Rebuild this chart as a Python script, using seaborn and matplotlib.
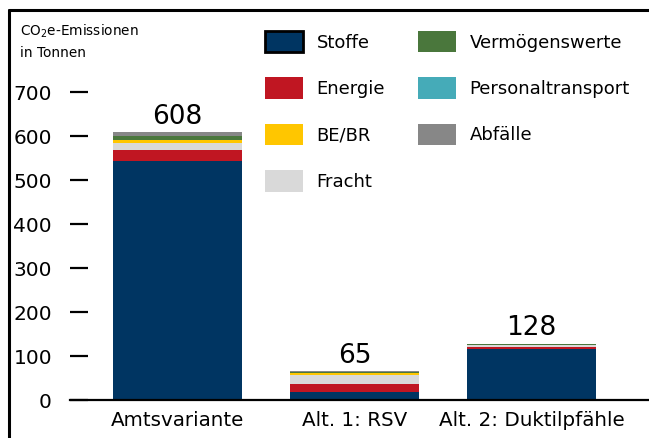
import numpy as np
import pandas as pd
import matplotlib
matplotlib.use('Agg')
import matplotlib.pyplot as plt
from matplotlib.patches import Patch
from matplotlib.lines import Line2D
import seaborn as sns

# data
variants = ['Amtsvariante', 'Alt. 1: RSV', 'Alt. 2: Duktilpfähle']
totals = [608, 65, 128]
stack_order = ['Stoffe', 'Energie', 'Fracht', 'BE/BR', 'Vermögenswerte',
               'Personaltransport', 'Abfälle']
legend_order = ['Stoffe', 'Energie', 'BE/BR', 'Fracht', 'Vermögenswerte',
                'Personaltransport', 'Abfälle']
stoffe = [543, 19, 115]
energie = [25, 17, 5]
fracht = [17, 21, 4]
be_br = [5, 4, 0.5]
vermoegen = [9, 2, 3]
personal = [1, 1, 0.2]
abfaelle = [8, 1, 0.3]

colors = {'Stoffe': '#003562', 'Energie': '#C01622', 'BE/BR': '#FFC600',
          'Fracht': '#D9D9D9', 'Vermögenswerte': '#4A773C',
          'Personaltransport': '#45ABB8', 'Abfälle': '#878787'}

values = [stoffe, energie, fracht, be_br, vermoegen, personal, abfaelle]
rows = []
for comp, vals in zip(stack_order, values):
    for v, val in zip(variants, vals):
        rows.append({'variant': v, 'component': comp, 'value': val})
df = pd.DataFrame(rows)

sns.set_style('white')
plt.rcParams['font.family'] = ['DejaVu Sans']
plt.rcParams['text.color'] = 'black'

W, H = 649, 438
fig = plt.figure(figsize=(W / 100, H / 100), dpi=100)
# axes in pixel terms: x 70..649, y baseline at 400, 0.44 px per tonne
ymax = 760
top_px = 400 - ymax * 0.44
ax = fig.add_axes([70 / W, (H - 400) / H, (W - 70) / W, (400 - top_px) / H])

# histplot stacks the last hue at the bottom, so reverse the order
sns.histplot(data=df, x='variant', hue='component', weights='value',
             multiple='stack', discrete=True, shrink=0.73,
             hue_order=stack_order[::-1], palette=colors, linewidth=0,
             alpha=1, legend=False, ax=ax)

ax.set_xlim(-0.607, 2.664)
ax.set_ylim(0, ymax)
ax.set_yticks(np.arange(0, 800, 100))
ax.set_xlabel('')
ax.set_ylabel('')
for s in ['top', 'right', 'left']:
    ax.spines[s].set_visible(False)
ax.spines['bottom'].set_linewidth(1.6)
ax.spines['bottom'].set_color('black')
ax.tick_params(axis='y', direction='in', length=13, width=1.6, pad=13,
               labelsize=14.5, colors='black', left=True)
ax.tick_params(axis='x', length=0, pad=8, labelsize=14.3, colors='black')
ax.grid(False)

for i, t in enumerate(totals):
    ax.annotate(str(t), (i, t), xytext=(0, 2), textcoords='offset points',
                ha='center', va='bottom', fontsize=19, color='black')

handles = []
for comp in legend_order:
    if comp == 'Stoffe':
        handles.append(Patch(facecolor=colors[comp], edgecolor='black', linewidth=2))
    else:
        handles.append(Patch(facecolor=colors[comp], edgecolor='none'))
fig.legend(handles, legend_order, loc='upper left', ncol=2,
           bbox_to_anchor=(265 / W, 1 - 31 / H), frameon=False, fontsize=13,
           handlelength=2.1, handleheight=1.45, labelspacing=1.38,
           handletextpad=0.75, columnspacing=1.83, borderpad=0, borderaxespad=0)

fig.text(20 / W, 1 - 36 / H, 'CO$_2$e-Emissionen', fontsize=9.8, va='baseline')
fig.text(20 / W, 1 - 57 / H, 'in Tonnen', fontsize=9.8, va='baseline')

# frame
fig.add_artist(Line2D([9 / W, 9 / W], [0, 1 - 10 / H], color='black', lw=2.2))
fig.add_artist(Line2D([9 / W, 1], [1 - 10 / H, 1 - 10 / H], color='black', lw=2.2))

fig.savefig('out.png', dpi=100)
